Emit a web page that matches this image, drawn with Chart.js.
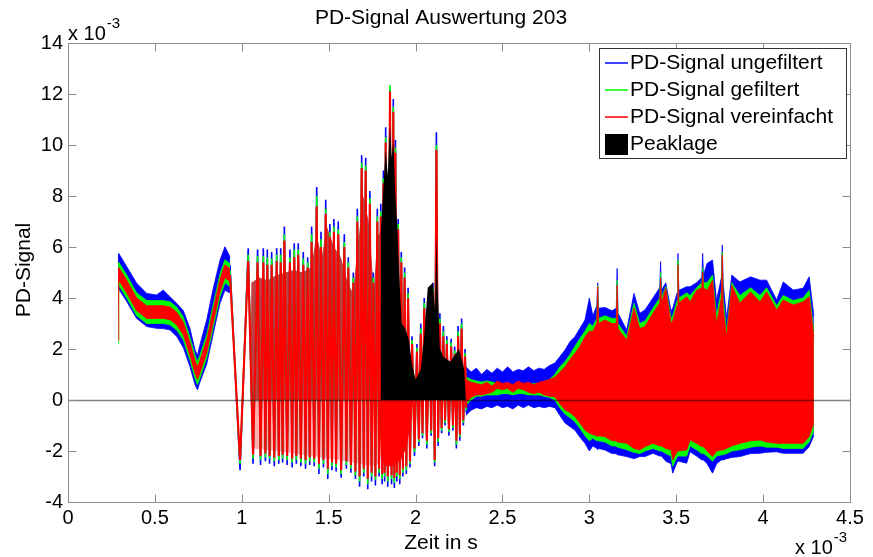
<!DOCTYPE html>
<html>
<head>
<meta charset="utf-8">
<title>PD-Signal Auswertung 203</title>
<script src="https://cdn.jsdelivr.net/npm/chart.js@4.4.1/dist/chart.umd.min.js"></script>
<style>
  html, body { margin: 0; padding: 0; background: #fff; }
  #wrap { width: 873px; height: 557px; }
</style>
</head>
<body>
<div id="wrap"><canvas id="chart" width="873" height="557"></canvas></div>
<script>
// Axis ticks (time in ms, signal in 1e-3)
const xTicks = [0, 0.5, 1, 1.5, 2, 2.5, 3, 3.5, 4, 4.5];
const yTicks = [-4, -2, 0, 2, 4, 6, 8, 10, 12, 14];
const legendLabels = ['PD-Signal ungefiltert', 'PD-Signal gefiltert', 'PD-Signal vereinfacht', 'Peaklage'];

// Slow part at the start (0.29 - 0.93 ms): envelope of each signal
const aT        = [0.288, 0.292, 0.338, 0.395, 0.453, 0.510, 0.548, 0.587, 0.625, 0.664, 0.702, 0.731, 0.745, 0.759, 0.798, 0.836, 0.875, 0.903, 0.932];
const aBlueTop  = [5.7, 5.75, 5.23, 4.58, 4.18, 4.12, 4.31, 4.05, 3.79, 3.5, 2.8, 1.96, 1.75, 2.16, 3.14, 4.38, 5.49, 6.01, 5.62];
const aBlueBot  = [4.4, 4.35, 3.86, 3.2, 2.88, 2.81, 2.8, 2.75, 2.5, 2.05, 1.3, 0.6, 0.4, 0.7, 1.4, 2.6, 3.8, 4.3, 4.2];
const aGreenTop = [5.35, 5.4, 4.9, 4.2, 3.9, 3.9, 3.9, 3.85, 3.65, 3.25, 2.45, 1.75, 1.5, 1.75, 2.55, 3.75, 4.95, 5.5, 5.35];
const aGreenBot = [2.2, 4.5, 4.0, 3.3, 3.0, 3.0, 3.0, 2.95, 2.75, 2.35, 1.55, 0.85, 0.6, 0.85, 1.65, 2.85, 4.05, 4.6, 4.45];
const aRedTop   = [5.15, 5.2, 4.7, 4.0, 3.7, 3.7, 3.7, 3.65, 3.45, 3.05, 2.25, 1.55, 1.3, 1.55, 2.35, 3.55, 4.75, 5.3, 5.15];
const aRedBot   = [2.35, 4.7, 4.2, 3.5, 3.2, 3.2, 3.2, 3.15, 2.95, 2.55, 1.75, 1.05, 0.8, 1.05, 1.85, 3.05, 4.25, 4.8, 4.65];

// Oscillating part (0.93 - 2.29 ms): alternating peaks and troughs
const oscT = [0.932, 0.990, 1.037, 1.065, 1.091, 1.108, 1.124, 1.136, 1.147, 1.160,
              1.172, 1.187, 1.201, 1.213, 1.224, 1.235, 1.245, 1.261, 1.277, 1.290,
              1.302, 1.314, 1.325, 1.340, 1.354, 1.367, 1.379, 1.391, 1.402, 1.417,
              1.431, 1.444, 1.456, 1.470, 1.483, 1.495, 1.507, 1.519, 1.530, 1.543,
              1.555, 1.572, 1.590, 1.602, 1.613, 1.628, 1.642, 1.654, 1.665, 1.678,
              1.690, 1.702, 1.713, 1.725, 1.737, 1.747, 1.757, 1.769, 1.780, 1.790,
              1.800, 1.808, 1.815, 1.822, 1.828, 1.840, 1.853, 1.862, 1.872, 1.878,
              1.884, 1.892, 1.900, 1.909, 1.918, 1.927, 1.937, 1.947, 1.957, 1.968,
              1.980, 1.994, 2.008, 2.019, 2.030, 2.040, 2.050, 2.065, 2.080, 2.090,
              2.100, 2.110, 2.120, 2.130, 2.140, 2.150, 2.160, 2.170, 2.180, 2.192,
              2.205, 2.215, 2.225, 2.235, 2.245, 2.255, 2.265, 2.275, 2.285, 2.292];
const oscBlue = [5.3, -2.75, 5.95, -2.5, 5.9, -2.55, 5.95, -2.4, 5.9, -2.5,
                 5.8, -2.6, 5.95, -2.5, 5.95, -2.45, 6.8, -2.55, 5.9, -2.65,
                 6.15, -2.5, 6.15, -2.6, 5.8, -2.7, 5.6, -2.55, 6.8, -2.6,
                 8.35, -2.9, 6.6, -2.65, 7.85, -3.1, 6.9, -2.75, 7.1, -2.8,
                 7.0, -3.05, 6.5, -2.7, 5.6, -2.85, 5.0, -3.1, 7.5, -3.4,
                 9.6, -3.0, 9.5, -3.5, 8.2, -3.2, 5.0, -3.35, 7.5, -3.0,
                 7.7, -3.3, 9.0, -3.2, 10.7, -3.4, 12.2, -3.3, 11.8, -3.45,
                 10.2, -3.2, 7.1, -3.3, 5.8, -3.0, 5.2, -2.9, 4.4, -2.65,
                 2.5, -2.2, 2.2, -1.8, 3.0, -1.5, 4.0, -1.9, 3.1, -1.4,
                 4.6, -2.6, 10.5, -1.8, 3.4, -1.3, 2.9, -1.0, 2.5, -1.4,
                 2.4, -1.2, 2.1, -1.9, 2.9, -1.6, 3.2, -1.0, 2.0, -0.5];
const oscGreen = [5.1, -2.5, 5.7, -2.3, 5.65, -2.35, 5.65, -2.25, 5.6, -2.3,
                  5.55, -2.4, 5.7, -2.35, 5.7, -2.3, 6.5, -2.35, 5.6, -2.45,
                  5.9, -2.35, 5.9, -2.45, 5.55, -2.5, 5.4, -2.4, 6.5, -2.45,
                  8.0, -2.7, 6.3, -2.5, 7.5, -2.9, 6.6, -2.6, 6.8, -2.65,
                  6.7, -2.9, 6.2, -2.55, 5.4, -2.7, 4.8, -2.95, 7.2, -3.2,
                  9.3, -2.85, 9.2, -3.3, 7.9, -3.0, 4.8, -3.15, 7.2, -2.85,
                  7.4, -3.1, 8.7, -3.0, 10.3, -3.2, 12.35, -3.1, 11.5, -3.25,
                  9.9, -3.0, 6.9, -3.1, 5.6, -2.85, 5.0, -2.75, 4.2, -2.5,
                  2.35, -2.05, 2.05, -1.65, 2.8, -1.4, 3.8, -1.75, 2.9, -1.3,
                  4.4, -2.45, 10.0, -1.65, 3.2, -1.2, 2.7, -0.9, 2.35, -1.25,
                  2.25, -1.1, 1.95, -1.75, 2.7, -1.45, 3.0, -0.9, 1.85, -0.4];
const oscRed = [4.9, -2.35, 5.45, -2.15, 5.4, -2.2, 5.4, -2.1, 5.3, -2.2,
                5.3, -2.25, 5.45, -2.2, 5.4, -2.15, 6.25, -2.2, 5.4, -2.3,
                5.6, -2.2, 5.7, -2.3, 5.3, -2.35, 5.2, -2.25, 6.2, -2.3,
                7.6, -2.5, 6.0, -2.35, 7.3, -2.7, 6.4, -2.45, 6.6, -2.5,
                6.5, -2.75, 6.0, -2.4, 5.2, -2.55, 4.6, -2.8, 7.0, -3.0,
                9.1, -2.7, 9.0, -3.1, 7.7, -2.85, 4.6, -3.0, 7.0, -2.7,
                7.2, -2.9, 8.5, -2.85, 10.1, -3.0, 12.1, -2.95, 11.3, -3.05,
                9.7, -2.85, 6.7, -2.95, 5.4, -2.7, 4.8, -2.6, 4.0, -2.4,
                2.2, -1.9, 1.9, -1.55, 2.6, -1.3, 3.6, -1.6, 2.7, -1.2,
                4.2, -2.35, 9.8, -1.5, 3.0, -1.1, 2.5, -0.8, 2.2, -1.15,
                2.1, -1.0, 1.8, -1.6, 2.5, -1.35, 2.8, -0.8, 1.7, -0.3];

// Dense area under the oscillation (dark red above zero, light below, solid red bowl)
const shadeT = [1.050, 1.055, 1.10, 1.15, 1.20, 1.25, 1.30, 1.35, 1.40, 1.43, 1.46, 1.49, 1.53, 1.57, 1.61, 1.64, 1.67, 1.70, 1.73, 1.76, 1.78, 1.80];
const shadeV = [0, 4.6, 4.8, 4.7, 4.9, 5.0, 5.1, 5.0, 5.2, 6.5, 5.6, 6.8, 6.0, 5.6, 4.6, 4.2, 6.2, 8.0, 7.0, 4.3, 6.4, 6.6];
const negT = [1.05, 1.06, 1.20, 1.40, 1.60, 1.75, 1.79];
const negV = [0, -1.9, -2.0, -2.2, -2.4, -2.6, -2.5];
const bowlT = [1.790, 1.800, 1.830, 1.860, 1.890, 1.920, 1.950, 1.975, 1.985];
const bowlV = [0, -2.3, -2.6, -2.6, -2.5, -2.3, -1.8, -0.8, 0];

// Peaklage (black area)
const peakT = [1.796, 1.800, 1.815, 1.828, 1.840, 1.853, 1.862, 1.872, 1.884, 1.895, 1.905, 1.920, 1.940, 1.960, 1.980,
               2.000, 2.030, 2.050, 2.070, 2.100, 2.112, 2.120, 2.128, 2.140, 2.160, 2.200, 2.250, 2.280, 2.290];
const peakV = [0, 6.5, 8.3, 9.8, 8.8, 10.8, 9.5, 10.2, 8.0, 6.8, 5.0, 3.0, 2.8, 2.4, 1.4,
               0.8, 1.2, 2.5, 4.4, 4.6, 3.5, 6.5, 4.2, 2.0, 1.7, 1.5, 2.0, 1.2, 0];

// Noisy part (2.29 - 4.29 ms): envelopes
const cdT = [2.290, 2.320, 2.350, 2.380, 2.410, 2.440, 2.470, 2.500, 2.530, 2.560,
             2.590, 2.620, 2.650, 2.680, 2.710, 2.740, 2.770, 2.802, 2.830, 2.860,
             2.890, 2.917, 2.945, 2.975, 3.000, 3.020, 3.043, 3.048, 3.053, 3.090,
             3.130, 3.155, 3.160, 3.165, 3.215, 3.257, 3.290, 3.320, 3.366, 3.405,
             3.410, 3.415, 3.440, 3.470, 3.480, 3.505, 3.510, 3.515, 3.560, 3.580,
             3.617, 3.647, 3.652, 3.657, 3.678, 3.709, 3.732, 3.760, 3.765, 3.770,
             3.790, 3.820, 3.866, 3.928, 3.982, 4.020, 4.078, 4.116, 4.173, 4.230,
             4.265, 4.292];
const cdBlueTop = [1.3, 1.1, 1.25, 1.0, 1.2, 1.05, 1.25, 1.1, 1.3, 1.1,
                   1.2, 1.15, 1.3, 1.15, 1.25, 1.2, 1.35, 1.45, 1.7, 1.96,
                   2.3, 2.48, 2.8, 3.14, 4.0, 3.3, 3.7, 4.6, 3.6, 3.63,
                   3.5, 3.6, 5.16, 3.4, 2.75, 4.18, 3.4, 3.53, 4.0, 4.4,
                   5.43, 4.3, 4.6, 3.5, 3.6, 4.2, 5.75, 4.3, 4.44, 4.44,
                   4.6, 4.8, 5.75, 4.9, 5.36, 5.49, 3.9, 4.8, 6.08, 4.6,
                   3.2, 4.9, 4.63, 4.83, 4.7, 4.7, 3.92, 4.63, 4.31, 4.38,
                   4.83, 3.3];
const cdGreenTop = [0.9, 0.8, 0.75, 0.7, 0.75, 0.7, 0.65, 0.6, 0.6, 0.55,
                    0.6, 0.6, 0.6, 0.65, 0.65, 0.7, 0.8, 1.0, 1.3, 1.5,
                    1.8, 2.1, 2.4, 2.7, 3.0, 2.9, 3.2, 4.5, 3.2, 3.3,
                    3.2, 3.2, 4.7, 3.0, 2.5, 3.8, 3.0, 3.1, 3.6, 4.0,
                    5.0, 4.0, 4.45, 3.2, 3.3, 3.9, 5.5, 4.0, 4.2, 4.1,
                    4.4, 4.6, 5.2, 4.6, 4.6, 4.9, 3.3, 4.3, 5.8, 4.0,
                    2.7, 4.6, 4.1, 4.4, 4.1, 4.4, 3.7, 4.1, 3.9, 4.0,
                    4.3, 2.7];
const cdRedTop = [0.8, 0.7, 0.65, 0.6, 0.7, 0.55, 0.75, 0.65, 0.7, 0.6,
                  0.75, 0.65, 0.7, 0.6, 0.7, 0.75, 0.8, 0.9, 1.1, 1.3,
                  1.6, 1.83, 2.1, 2.48, 2.7, 2.7, 3.0, 4.45, 3.0, 3.14,
                  3.0, 3.0, 4.5, 2.8, 2.35, 3.6, 2.8, 2.88, 3.4, 3.8,
                  4.78, 3.8, 4.38, 3.01, 3.1, 3.7, 5.3, 3.8, 4.05, 3.85,
                  4.3, 4.4, 5.02, 4.4, 4.3, 4.7, 3.0, 4.0, 5.69, 3.6,
                  2.48, 4.5, 3.8, 4.24, 3.85, 4.24, 3.53, 3.92, 3.73, 3.85,
                  4.05, 2.48];
const cdRedBot = [-0.1, 0.1, 0.2, 0.2, 0.25, 0.3, 0.45, 0.4, 0.45, 0.3,
                  0.45, 0.4, 0.3, 0.25, 0.3, 0.2, 0.15, 0.12, -0.15, -0.39,
                  -0.5, -0.65, -0.9, -1.18, -1.3, -1.35, -1.4, -1.45, -1.4, -1.44,
                  -1.6, -1.6, -1.65, -1.65, -1.7, -1.9, -1.96, -1.83, -1.7, -1.8,
                  -1.8, -1.8, -1.9, -1.96, -2.35, -2.0, -2.0, -2.0, -1.96, -1.57,
                  -1.7, -1.83, -1.83, -1.83, -2.0, -2.22, -2.0, -1.96, -1.96, -1.96,
                  -1.9, -1.8, -1.7, -1.6, -1.57, -1.65, -1.7, -1.7, -1.7, -1.7,
                  -1.44, -0.9];
const cdGreenBot = [-0.2, 0.0, 0.15, 0.15, 0.2, 0.2, 0.2, 0.25, 0.25, 0.2,
                    0.25, 0.25, 0.2, 0.2, 0.2, 0.15, 0.1, 0.0, -0.3, -0.55,
                    -0.7, -0.85, -1.1, -1.4, -1.6, -1.5, -1.6, -1.6, -1.6, -1.65,
                    -1.8, -1.8, -1.85, -1.85, -1.95, -2.05, -2.1, -2.0, -1.9, -2.0,
                    -2.0, -2.0, -2.1, -2.2, -2.6, -2.2, -2.2, -2.2, -2.2, -1.8,
                    -1.95, -2.1, -2.1, -2.1, -2.2, -2.4, -2.2, -2.15, -2.15, -2.15,
                    -2.1, -2.0, -1.95, -1.85, -1.8, -1.85, -1.85, -1.9, -1.9, -1.9,
                    -1.65, -1.2];
const cdBlueBot = [-0.6, -0.4, -0.3, -0.35, -0.25, -0.3, -0.2, -0.3, -0.25, -0.35,
                   -0.2, -0.3, -0.2, -0.3, -0.25, -0.3, -0.25, -0.3, -0.6, -0.9,
                   -1.05, -1.18, -1.45, -1.7, -2.0, -1.8, -1.9, -1.95, -1.9, -1.96,
                   -2.1, -2.1, -2.15, -2.15, -2.22, -2.3, -2.22, -2.22, -2.09, -2.2,
                   -2.2, -2.2, -2.4, -2.5, -2.87, -2.4, -2.4, -2.4, -2.48, -2.03,
                   -2.2, -2.35, -2.35, -2.35, -2.5, -2.87, -2.5, -2.35, -2.35, -2.35,
                   -2.3, -2.25, -2.22, -2.1, -2.09, -2.05, -2.03, -2.09, -2.09, -2.09,
                   -1.83, -1.4];

const BLUE = '#0000ff', GREEN = '#00ff00', RED = '#ff0000', BLACK = '#000000';
const FONT = "'Liberation Sans', Arial, Helvetica, sans-serif";
const NONE = 'rgba(0,0,0,0)';

function pts(ts, vs) {
    return ts.map((t, i) => ({ x: t, y: vs[i] }));
}

// filled band between two envelopes (top fills to the next dataset)
function band(ts, top, bot, color, order) {
    return [
        { data: pts(ts, top), borderColor: color, backgroundColor: color, borderWidth: 0.8, fill: '+1', order: order },
        { data: pts(ts, bot), borderColor: color, backgroundColor: color, borderWidth: 0.8, fill: false, order: order }
    ];
}

function trace(ts, vs, color, width, order) {
    return { data: pts(ts, vs), borderColor: color, borderWidth: width, fill: false, order: order };
}

function area(ts, vs, color, order) {
    return { data: pts(ts, vs), borderColor: NONE, backgroundColor: color, borderWidth: 1, fill: 'origin', order: order };
}

const datasets = [
    area(shadeT, shadeV, 'rgba(170,0,0,0.75)', 70),
    area(negT, negV, 'rgba(255,80,80,0.45)', 70),
    ...band(aT, aBlueTop, aBlueBot, BLUE, 60),
    ...band(cdT, cdBlueTop, cdBlueBot, BLUE, 60),
    trace(oscT, oscBlue, BLUE, 1.6, 60),
    ...band(aT, aGreenTop, aGreenBot, GREEN, 50),
    ...band(cdT, cdGreenTop, cdGreenBot, GREEN, 50),
    trace(oscT, oscGreen, GREEN, 1.6, 50),
    ...band(aT, aRedTop, aRedBot, RED, 40),
    ...band(cdT, cdRedTop, cdRedBot, RED, 40),
    trace(oscT, oscRed, RED, 2.1, 40),
    area(bowlT, bowlV, RED, 40),
    area(peakT, peakV, BLACK, 30)
];

// zero line, box, inner ticks, texts and legend in the MATLAB look
const frame = {
    id: 'frame',
    afterDatasetsDraw(chart) {
        const { ctx, chartArea: a, scales } = chart;
        const y0 = Math.round(scales.y.getPixelForValue(0)) + 0.5;
        ctx.save();
        ctx.strokeStyle = 'rgba(0,0,0,0.5)';
        ctx.lineWidth = 1.4;
        ctx.beginPath();
        ctx.moveTo(a.left, y0);
        ctx.lineTo(a.right, y0);
        ctx.stroke();
        ctx.restore();
    },
    afterDraw(chart) {
        const { ctx, chartArea: a, scales: { x, y } } = chart;
        const L = Math.round(a.left) + 0.5, R = Math.round(a.right) + 0.5;
        const T = Math.round(a.top) + 0.5, B = Math.round(a.bottom) + 0.5;
        ctx.save();
        ctx.strokeStyle = '#8c8c8c';
        ctx.lineWidth = 1;
        ctx.strokeRect(L, T, R - L, B - T);

        ctx.beginPath();
        xTicks.forEach(v => {
            const px = Math.round(x.getPixelForValue(v)) + 0.5;
            ctx.moveTo(px, B); ctx.lineTo(px, B - 8);
            ctx.moveTo(px, T); ctx.lineTo(px, T + 8);
        });
        yTicks.forEach(v => {
            const py = Math.round(y.getPixelForValue(v)) + 0.5;
            ctx.moveTo(L, py); ctx.lineTo(L + 8, py);
            ctx.moveTo(R, py); ctx.lineTo(R - 8, py);
        });
        ctx.stroke();

        ctx.fillStyle = '#000';
        ctx.textBaseline = 'middle';

        // title
        ctx.font = '21px ' + FONT;
        ctx.textAlign = 'center';
        ctx.fillText('PD-Signal Auswertung 203', 441, 18);

        // axis titles
        ctx.fillText('Zeit in s', 441, 543);
        ctx.save();
        ctx.translate(24, 270);
        ctx.rotate(-Math.PI / 2);
        ctx.fillText('PD-Signal', 0, 0);
        ctx.restore();

        // exponent labels
        ctx.textAlign = 'left';
        ctx.font = '20px ' + FONT;
        let w = ctx.measureText('x 10').width;
        ctx.fillText('x 10', 68, 34);
        ctx.fillText('x 10', 795, 548);
        ctx.font = '15px ' + FONT;
        ctx.fillText('-3', 68 + w + 1, 24);
        ctx.fillText('-3', 795 + w + 1, 538);

        // legend
        const lx = 599.5, ly = 48.5, lw = 247, lh = 110;
        ctx.fillStyle = '#fff';
        ctx.fillRect(lx, ly, lw, lh);
        ctx.strokeStyle = '#333';
        ctx.strokeRect(lx, ly, lw, lh);
        const colors = [BLUE, GREEN, RED, BLACK];
        ctx.font = '21px ' + FONT;
        legendLabels.forEach((label, i) => {
            const cy = 63 + i * 27;
            if (i < 3) {
                ctx.strokeStyle = colors[i];
                ctx.lineWidth = 1.5;
                ctx.beginPath();
                ctx.moveTo(605, cy);
                ctx.lineTo(628, cy);
                ctx.stroke();
            } else {
                ctx.fillStyle = colors[i];
                ctx.fillRect(605, cy - 10, 23, 21);
            }
            ctx.fillStyle = '#000';
            ctx.fillText(label, 630, cy);
        });
        ctx.restore();
    }
};

Chart.defaults.font.family = FONT;

new Chart(document.getElementById('chart'), {
    type: 'line',
    data: { datasets: datasets },
    options: {
        responsive: false,
        animation: false,
        devicePixelRatio: 1,
        events: [],
        layout: { padding: { top: 43, right: 23, left: 0, bottom: 0 } },
        elements: {
            point: { radius: 0 },
            line: { tension: 0 }
        },
        plugins: {
            legend: { display: false },
            title: { display: false },
            tooltip: { enabled: false }
        },
        scales: {
            x: {
                type: 'linear',
                min: 0,
                max: 4.5,
                afterBuildTicks: s => { s.ticks = xTicks.map(v => ({ value: v })); },
                afterFit: s => { s.height = 55; },
                ticks: {
                    color: '#000',
                    font: { size: 20 },
                    padding: 4,
                    maxRotation: 0,
                    autoSkip: false,
                    callback: v => String(Math.round(v * 10) / 10)
                },
                grid: { display: false, drawTicks: false },
                border: { display: false }
            },
            y: {
                type: 'linear',
                min: -4,
                max: 14,
                afterBuildTicks: s => { s.ticks = yTicks.map(v => ({ value: v })); },
                afterFit: s => { s.width = 68; },
                ticks: {
                    color: '#000',
                    font: { size: 20 },
                    padding: 5,
                    autoSkip: false
                },
                grid: { display: false, drawTicks: false },
                border: { display: false }
            }
        }
    },
    plugins: [frame]
});
</script>
</body>
</html>
